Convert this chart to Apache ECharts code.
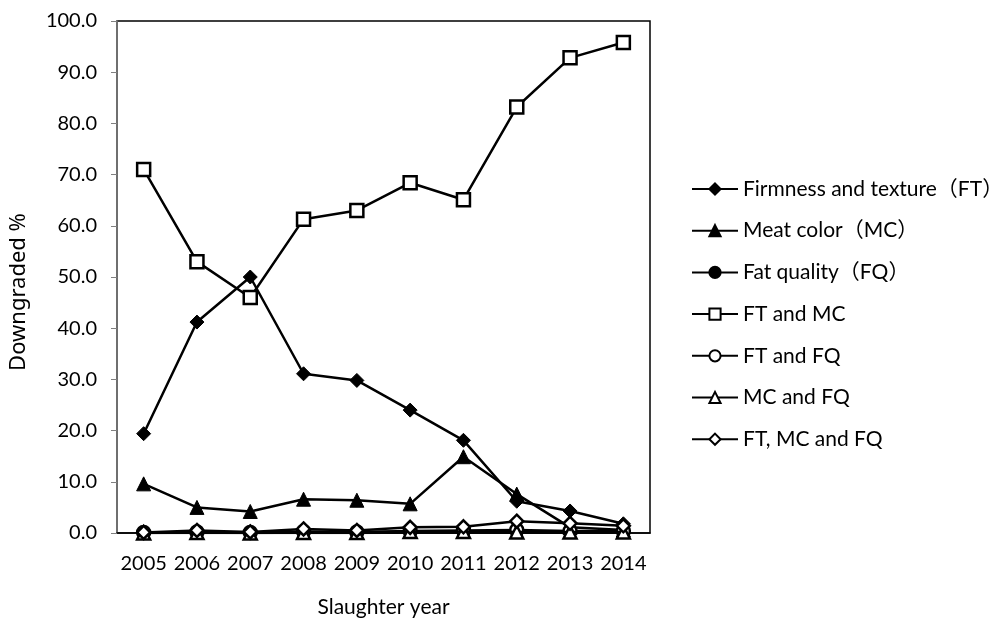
<!DOCTYPE html>
<html>
<head>
<meta charset="utf-8">
<script src="https://cdn.jsdelivr.net/npm/echarts@6/dist/echarts.min.js"></script>
<style>html,body{margin:0;padding:0;background:#fff;}#c{width:994px;height:619px;}</style>
</head>
<body>
<div id="c"></div>
<script>
const years = ['2005','2006','2007','2008','2009','2010','2011','2012','2013','2014'];
const seriesNames = ['Firmness and texture（FT）','Meat color（MC）','Fat quality（FQ）','FT and MC','FT and FQ','MC and FQ','FT, MC and FQ'];
const ft      = [19.4, 41.2, 50.0, 31.1, 29.8, 24.0, 18.1, 6.2, 4.3, 1.8];
const mc      = [9.6, 5.0, 4.2, 6.6, 6.4, 5.7, 14.9, 7.6, 1.1, 0.6];
const fq      = [0.0, 0.0, 0.0, 0.0, 0.0, 0.1, 0.1, 0.1, 0.1, 0.1];
const ftmc    = [71.0, 53.0, 46.0, 61.3, 63.0, 68.4, 65.1, 83.2, 92.8, 95.8];
const ftfq    = [0.1, 0.2, 0.1, 0.3, 0.2, 0.4, 0.5, 0.6, 0.4, 0.4];
const mcfq    = [0.0, 0.1, 0.0, 0.1, 0.1, 0.3, 0.3, 0.2, 0.2, 0.2];
const ftmcfq  = [0.1, 0.5, 0.2, 0.8, 0.5, 1.1, 1.2, 2.3, 1.9, 1.4];
const yTicks = {min: 0, max: 100, interval: 10};

const FONT = 'Lato, "Noto Sans CJK JP", sans-serif';
const symbols = [
  {s:'diamond', filled:true, size:14},
  {s:'triangle', filled:true, size:14},
  {s:'circle', filled:true, size:12},
  {s:'rect', filled:false, size:13},
  {s:'circle', filled:false, size:13},
  {s:'triangle', filled:false, size:13},
  {s:'diamond', filled:false, size:13}
];
const datas = [ft, mc, fq, ftmc, ftfq, mcfq, ftmcfq];
const series = datas.map((d, i) => ({
  name: seriesNames[i],
  type: 'line',
  data: d,
  symbol: symbols[i].s,
  symbolSize: symbols[i].size,
  showAllSymbol: true,
  lineStyle: {color: '#000', width: 2.5},
  itemStyle: {color: symbols[i].filled ? '#000' : '#fff', borderColor: '#000', borderWidth: symbols[i].filled ? 1 : 2.5},
  z: 2 + i,
  animation: false
}));

const chart = echarts.init(document.getElementById('c'));
chart.setOption({
  backgroundColor: '#fff',
  animation: false,
  grid: {left: 117, right: 344, top: 21, bottom: 86, show: true, borderColor: '#000', borderWidth: 1.5, containLabel: false, outerBoundsMode: 'none'},
  legend: {
    orient: 'vertical', left: 686, top: 173, itemGap: 19.7, itemWidth: 46, itemHeight: 14,
    textStyle: {fontFamily: FONT, fontSize: 21, lineHeight: 22, color: '#000'},
    data: seriesNames
  },
  xAxis: {
    type: 'category', data: years, boundaryGap: true,
    name: 'Slaughter year', nameLocation: 'middle', nameGap: 64,
    nameTextStyle: {fontFamily: FONT, fontSize: 21, color: '#000'},
    axisLine: {lineStyle: {color: '#000', width: 1.5}},
    axisTick: {show: false},
    axisLabel: {fontFamily: FONT, fontSize: 20, color: '#000', margin: 21, interval: 0}
  },
  yAxis: {
    type: 'value', min: yTicks.min, max: yTicks.max, interval: yTicks.interval,
    name: 'Downgraded %', nameLocation: 'middle', nameGap: 87,
    nameTextStyle: {fontFamily: '"Noto Sans", sans-serif', fontSize: 22, color: '#000', padding: [0, 30, 0, 0]},
    axisLine: {show: true, lineStyle: {color: '#808080', width: 1.5}},
    axisTick: {show: true, length: 6, lineStyle: {color: '#808080'}},
    splitLine: {show: false},
    axisLabel: {fontFamily: FONT, fontSize: 20, color: '#000', margin: 20, formatter: v => v.toFixed(1)}
  },
  series: series
});
</script>
</body>
</html>
